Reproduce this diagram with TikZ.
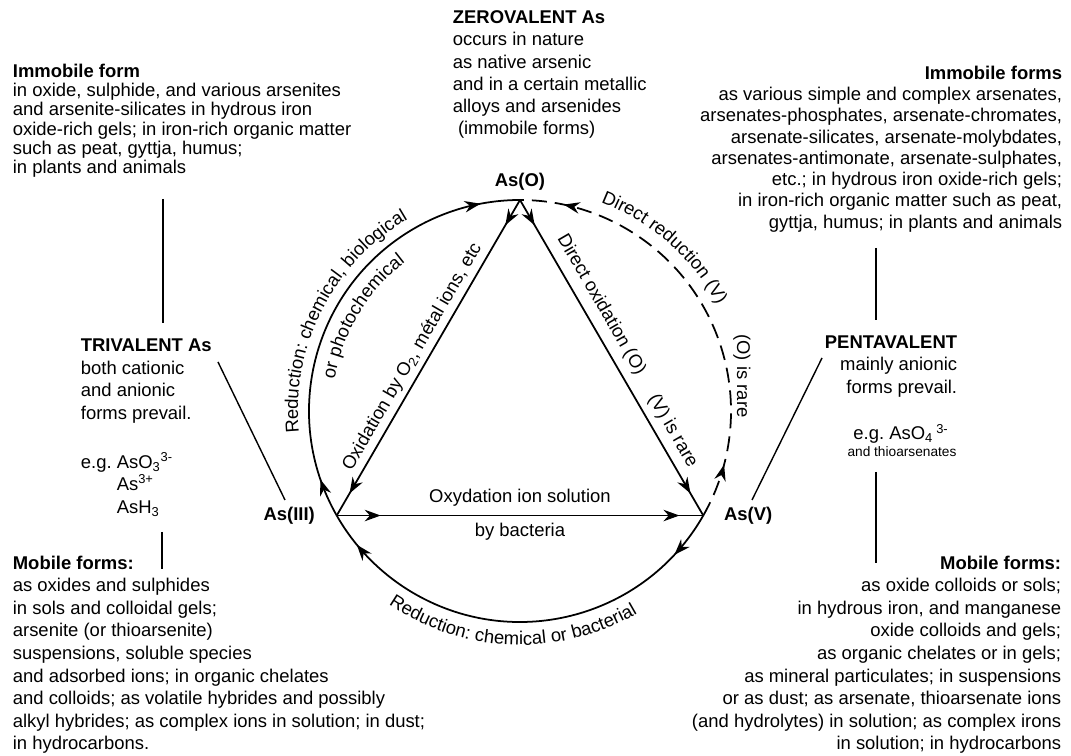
\documentclass[tikz,border=0pt]{standalone}
\usepackage{fontspec}
\setmainfont{Liberation Sans}
\usetikzlibrary{arrows.meta, decorations.markings, decorations.text, positioning}
\frenchspacing

\newcommand{\lblfont}{\fontsize{10.5}{12.5}\selectfont}

\tikzset{
        twotips/.style 2 args={
                decoration={markings,
                        mark=at position #1 with {\arrow{Stealth[length=0.32cm, width=0.23cm]}},
                        mark=at position #2 with {\arrow{Stealth[length=0.32cm, width=0.23cm]}}},
                postaction={decorate}},
        curvlab/.style={decorate, decoration={text along path, text align=center, text={|\lblfont|#1}}},
        blk/.style={font=\fontsize{10.5}{#1}\selectfont},
        valence/.style={font=\lblfont\bfseries},
        leader/.style={line width=0.8pt}
}

\begin{document}
\begin{tikzpicture}[x=0.02cm, y=0.02cm, line width=1pt, every node/.style={inner sep=0pt, font=\lblfont}]

        \useasboundingbox (-520,-345) rectangle (551,411);

        \coordinate (vO) at (90:211);
        \coordinate (vIII) at (209.7:211);
        \coordinate (vV) at (-29.7:211);

        \node (AsO) [valence, above=0.18cm of vO] {As(O)};
        \node (AsIII) [valence, left=0.42cm of vIII] {As(III)};
        \node (AsV) [valence, right=0.4cm of vV] {As(V)};

        \draw[twotips={0.09}{0.91}] (vIII) arc[start angle=209.7, end angle=90, radius=211];
        \draw[twotips={0.125}{0.9}, dash pattern=on 0.3cm off 0.16cm] (vV) arc[start angle=-29.7, end angle=90, radius=211];
        \draw[twotips={0.11}{0.92}] (vV) arc[start angle=-29.7, end angle=-150.3, radius=211];

        \draw[twotips={0.08}{0.93}] (vO) to node (oxO2) [pos=0.52, sloped, above=0.09cm] {Oxidation by O\textsubscript{2}, métal ions, etc} (vIII);
        \draw[twotips={0.08}{0.93}] (vO) to node (dirOx) [pos=0.36, sloped, above=0.16cm] {Direct oxidation (O)}
                node (rareV) [pos=0.757, sloped, above=0.13cm] {(V) is rare} (vV);
        \draw[twotips={0.12}{0.935}] (vIII) to node (oxIon) [midway, above=0.16cm] {Oxydation ion solution}
                node (byBac) [midway, below=0.14cm] {by bacteria} (vV);

        \node (rareO) [rotate=-90] at (222,35) {(O) is rare};

        \path[curvlab={Reduction: chemical, biological}] (198:222) arc[start angle=198, end angle=108, radius=222];
        \path[curvlab={or photochemical}] (185:188) arc[start angle=185, end angle=113, radius=188];
        \path[curvlab={Direct reduction (V)}] (85:224) arc[start angle=85, end angle=12, radius=224];
        \path[curvlab={Reduction: chemical or bacterial}] (-132:234) arc[start angle=-132, end angle=-52, radius=234];

        \node (zeroV) [blk=12.6pt, anchor=north west, align=left] at (-68,401) {\textbf{ZEROVALENT As}\\occurs in nature\\as native arsenic\\and in a certain metallic\\alloys and arsenides\\\ (immobile forms)};

        \node (immL) [blk=11pt, anchor=north west, align=left] at (-508,348) {\textbf{Immobile form}\\in oxide, sulphide, and various arsenites\\and arsenite-silicates in hydrous iron\\oxide-rich gels; in iron-rich organic matter\\such as peat, gyttja, humus;\\in plants and animals};
        \node (triV) [blk=12.85pt, anchor=north west, align=left] at (-440,73) {\textbf{TRIVALENT As}\\both cationic\\and anionic\\forms prevail.\\[15pt]e.g. AsO\textsubscript{3}\textsuperscript{3-}\\\phantom{e.g. }As\textsuperscript{3+}\\\phantom{e.g. }AsH\textsubscript{3}};
        \node (mobL) [blk=12.85pt, anchor=north west, align=left] at (-508,-144) {\textbf{Mobile forms:}\\as oxides and sulphides\\in sols and colloidal gels;\\arsenite (or thioarsenite)\\suspensions, soluble species\\and adsorbed ions; in organic chelates\\and colloids; as volatile hybrides and possibly\\alkyl hybrides; as complex ions in solution; in dust;\\in hydrocarbons.};

        \node (immR) [blk=12.1pt, anchor=north east, align=right] at (543,346) {\textbf{Immobile forms}\\as various simple and complex arsenates,\\arsenates-phosphates, arsenate-chromates,\\arsenate-silicates, arsenate-molybdates,\\arsenates-antimonate, arsenate-sulphates,\\etc.; in hydrous iron oxide-rich gels;\\in iron-rich organic matter such as peat,\\gyttja, humus; in plants and animals};
        \node (pentV) [blk=12.75pt, anchor=north east, align=right] at (438,76) {\textbf{PENTAVALENT}\\mainly anionic\\forms prevail.};
        \node (pentEg) [anchor=base] at (381,-29) {e.g. AsO\textsubscript{4}\,\textsuperscript{3-}};
        \node (pentThio) [anchor=base, font=\fontsize{7.8}{9}\selectfont] at (382,-46) {and thioarsenates};
        \node (mobR) [blk=12.85pt, anchor=north east, align=right] at (542,-144) {\textbf{Mobile forms:}\\as oxide colloids or sols;\\in hydrous iron, and manganese\\oxide colloids and gels;\\as organic chelates or in gels;\\as mineral particulates; in suspensions\\or as dust; as arsenate, thioarsenate ions\\(and hydrolytes) in solution; as complex irons\\in solution; in hydrocarbons};

        \coordinate (immLfoot) at (-357,212);
        \coordinate (triVhead) at (-357,88);
        \coordinate (triVside) at (-302,49);
        \coordinate (AsIIIhead) at (-235,-89);
        \coordinate (triVfoot) at (-358,-121);
        \coordinate (mobLhead) at (-358,-158);
        \coordinate (immRfoot) at (356,163);
        \coordinate (pentVhead) at (356,91);
        \coordinate (pentVside) at (302,53);
        \coordinate (AsVhead) at (232,-89);
        \coordinate (pentVfoot) at (356,-61);
        \coordinate (mobRhead) at (356,-152);

        \draw[leader] (immLfoot) to (triVhead);
        \draw[leader] (triVside) to (AsIIIhead);
        \draw[leader] (triVfoot) to (mobLhead);
        \draw[leader] (immRfoot) to (pentVhead);
        \draw[leader] (pentVside) to (AsVhead);
        \draw[leader] (pentVfoot) to (mobRhead);

      \end{tikzpicture}
\end{document}
